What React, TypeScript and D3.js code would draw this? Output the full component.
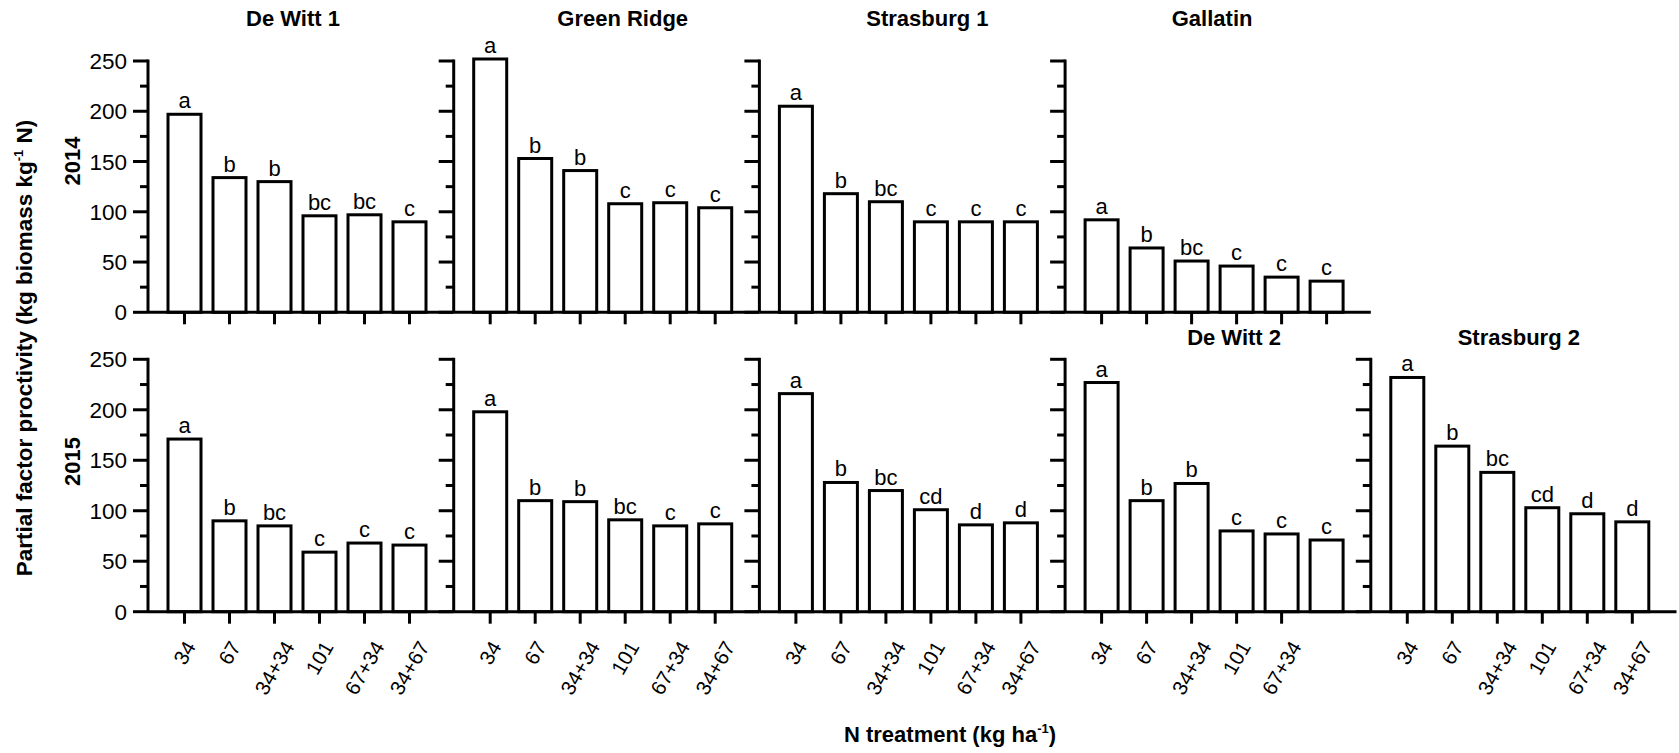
import React from "react";
import * as d3 from "d3";

// ---------- data ----------
const treatments = ["34", "67", "34+34", "101", "67+34", "34+67"];
const deWitt2Ticks = ["34", "67", "34+34", "101", "67+34"];
const yTicksMajor = [0, 50, 100, 150, 200, 250];
const yTicksMinor = [25, 75, 125, 175, 225];

const deWitt1_2014 = [197, 134, 130, 96, 97, 90];
const greenRidge_2014 = [252, 153, 141, 108, 109, 104];
const strasburg1_2014 = [205, 118, 110, 90, 90, 90];
const gallatin_2014 = [92, 64, 51, 46, 35, 31];
const deWitt1_2015 = [171, 90, 85, 59, 68, 66];
const greenRidge_2015 = [198, 110, 109, 91, 85, 87];
const strasburg1_2015 = [216, 128, 120, 101, 86, 88];
const deWitt2_2015 = [227, 110, 127, 80, 77, 71];
const strasburg2_2015 = [232, 164, 138, 103, 97, 89];

const deWitt1_2014_letters = ["a", "b", "b", "bc", "bc", "c"];
const greenRidge_2014_letters = ["a", "b", "b", "c", "c", "c"];
const strasburg1_2014_letters = ["a", "b", "bc", "c", "c", "c"];
const gallatin_2014_letters = ["a", "b", "bc", "c", "c", "c"];
const deWitt1_2015_letters = ["a", "b", "bc", "c", "c", "c"];
const greenRidge_2015_letters = ["a", "b", "b", "bc", "c", "c"];
const strasburg1_2015_letters = ["a", "b", "bc", "cd", "d", "d"];
const deWitt2_2015_letters = ["a", "b", "b", "c", "c", "c"];
const strasburg2_2015_letters = ["a", "b", "bc", "cd", "d", "d"];

// ---------- layout ----------
const FONT = "'Liberation Sans', Arial, Helvetica, sans-serif";
const AXIS0 = 148;
const PITCH = 305.7;
const rowScales = [
  d3.scaleLinear().domain([0, 250]).range([312.3, 61]),
  d3.scaleLinear().domain([0, 250]).range([611.7, 359.3]),
];
const titleBaseline = [26, 345];

const panels = [
  { title: "De Witt 1", row: 0, col: 0, titleDx: 145, values: deWitt1_2014, letters: deWitt1_2014_letters, ticks: treatments, showLabels: false },
  { title: "Green Ridge", row: 0, col: 1, titleDx: 169, values: greenRidge_2014, letters: greenRidge_2014_letters, ticks: treatments, showLabels: false },
  { title: "Strasburg 1", row: 0, col: 2, titleDx: 168, values: strasburg1_2014, letters: strasburg1_2014_letters, ticks: treatments, showLabels: false },
  { title: "Gallatin", row: 0, col: 3, titleDx: 147, values: gallatin_2014, letters: gallatin_2014_letters, ticks: treatments, showLabels: false },
  { title: "", row: 1, col: 0, titleDx: 0, values: deWitt1_2015, letters: deWitt1_2015_letters, ticks: treatments, showLabels: true },
  { title: "", row: 1, col: 1, titleDx: 0, values: greenRidge_2015, letters: greenRidge_2015_letters, ticks: treatments, showLabels: true },
  { title: "", row: 1, col: 2, titleDx: 0, values: strasburg1_2015, letters: strasburg1_2015_letters, ticks: treatments, showLabels: true },
  { title: "De Witt 2", row: 1, col: 3, titleDx: 169, values: deWitt2_2015, letters: deWitt2_2015_letters, ticks: deWitt2Ticks, showLabels: true },
  { title: "Strasburg 2", row: 1, col: 4, titleDx: 148, values: strasburg2_2015, letters: strasburg2_2015_letters, ticks: treatments, showLabels: true },
];

const charW = (s: string, fs: number) =>
  s.split("").reduce((a, c) => a + (c === "+" ? 0.584 : 0.556), 0) * fs;

function Panel({ p }: { p: any }) {
  const y = rowScales[p.row];
  const ax = AXIS0 + p.col * PITCH;
  const x = d3.scalePoint().domain(treatments).range([ax + 36.5, ax + 261.5]);
  const y0 = y(0);
  const barW = 33;
  const sw = 3;
  return (
    <g>
      {p.title && (
        <text x={ax + p.titleDx} y={titleBaseline[p.row]} textAnchor="middle" fontWeight="bold" fontSize={22} fontFamily={FONT}>
          {p.title}
        </text>
      )}
      {treatments.map((t, i) => (
        <rect key={"b" + i} x={x(t)! - barW / 2} y={y(p.values[i])} width={barW} height={y0 - y(p.values[i])}
          fill="#fff" stroke="#000" strokeWidth={sw} />
      ))}
      {treatments.map((t, i) => (
        <text key={"l" + i} x={x(t)!} y={y(p.values[i]) - 6} textAnchor="middle" fontSize={22} fontFamily={FONT}>
          {p.letters[i]}
        </text>
      ))}
      <line x1={ax} x2={ax} y1={y(250) - 1.5} y2={y0} stroke="#000" strokeWidth={sw} />
      {yTicksMajor.map((v) => (
        <line key={"ym" + v} x1={ax - 15} x2={ax} y1={y(v)} y2={y(v)} stroke="#000" strokeWidth={sw} />
      ))}
      {yTicksMinor.map((v) => (
        <line key={"yn" + v} x1={ax - 8} x2={ax} y1={y(v)} y2={y(v)} stroke="#000" strokeWidth={sw} />
      ))}
      {p.col === 0 &&
        yTicksMajor.map((v) => (
          <text key={"yl" + v} x={ax - 21} y={y(v)} dy="0.36em" textAnchor="end" fontSize={22.5} fontFamily={FONT}>
            {v}
          </text>
        ))}
      <line x1={ax} x2={ax + PITCH} y1={y0} y2={y0} stroke="#000" strokeWidth={sw} />
      {p.ticks.map((t: string) => (
        <line key={"xt" + t} x1={x(t)!} x2={x(t)!} y1={y0} y2={y0 + 12} stroke="#000" strokeWidth={sw} />
      ))}
      {p.showLabels &&
        p.ticks.map((t: string) => {
          const w = charW(t, 20.5);
          const cx = x(t)!;
          const cy = 643 + 0.433 * w;
          return (
            <text key={"xl" + t} transform={`translate(${cx},${cy}) rotate(-60)`} textAnchor="middle" dy="0.35em"
              fontSize={20.5} fontFamily={FONT}>
              {t}
            </text>
          );
        })}
    </g>
  );
}

export default function App() {
  return (
    <svg width={1679} height={753} style={{ position: "absolute", left: 0, top: 0, background: "#fff" }}>
      <rect x={0} y={0} width={1679} height={753} fill="#fff" />
      {panels.map((p, i) => (
        <Panel key={i} p={p} />
      ))}
      <text transform="translate(80,161) rotate(-90)" textAnchor="middle" fontWeight="bold" fontSize={22} fontFamily={FONT}>
        2014
      </text>
      <text transform="translate(80,461.5) rotate(-90)" textAnchor="middle" fontWeight="bold" fontSize={22} fontFamily={FONT}>
        2015
      </text>
      <text transform="translate(32,348) rotate(-90)" textAnchor="middle" fontWeight="bold" fontSize={22.5} fontFamily={FONT}>
        Partial factor proctivity (kg biomass kg
        <tspan fontSize={13} dy={-9}>-1</tspan>
        <tspan dy={9}> N)</tspan>
      </text>
      <text x={950} y={742} textAnchor="middle" fontWeight="bold" fontSize={22} fontFamily={FONT}>
        N treatment (kg ha
        <tspan fontSize={13} dy={-9}>-1</tspan>
        <tspan dy={9}>)</tspan>
      </text>
    </svg>
  );
}
